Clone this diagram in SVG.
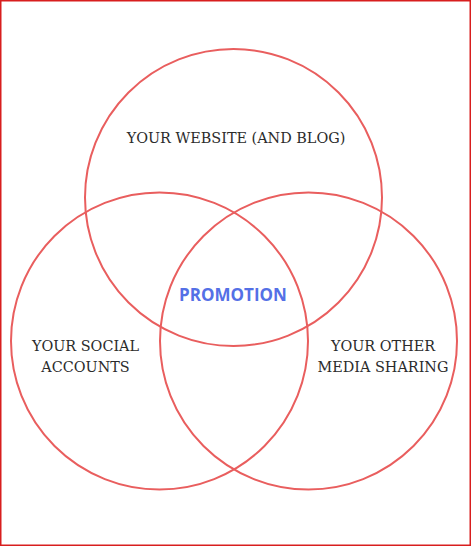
<svg xmlns="http://www.w3.org/2000/svg" width="471" height="546" viewBox="0 0 471 546">
<style>
.c{fill:none;stroke:#e95e5e;stroke-width:2}
.t{font-family:"DejaVu Serif","Liberation Serif",serif;font-size:14.4px;fill:#2b2b2b;text-anchor:middle}
.p{font-family:"Open Sans","Liberation Sans",sans-serif;font-weight:bold;font-size:17px;fill:#5470e6;text-anchor:middle}
</style>
<rect x="0.75" y="0.75" width="469.5" height="544.5" fill="#fff" stroke="#d81e1e" stroke-width="1.5"/>
<g id="website"><circle class="c" cx="233.5" cy="197.5" r="148.5"/><text class="t" x="236" y="143">YOUR WEBSITE (AND BLOG)</text></g>
<g id="social"><circle class="c" cx="159.5" cy="341" r="148.5"/><text class="t" x="85.5" y="351">YOUR SOCIAL</text><text class="t" x="85.5" y="372">ACCOUNTS</text></g>
<g id="media"><circle class="c" cx="308.5" cy="341" r="148.5"/><text class="t" x="383" y="351">YOUR OTHER</text><text class="t" x="383" y="372">MEDIA SHARING</text></g>
<g id="promotion"><text class="p" x="233" y="301">PROMOTION</text></g>
<g id="connectors"/>
</svg>
